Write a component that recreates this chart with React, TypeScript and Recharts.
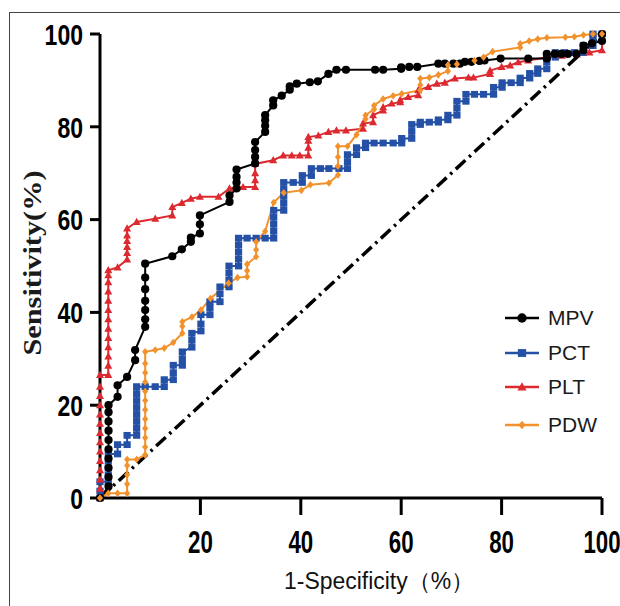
import React from 'react';
import { LineChart, Line, XAxis, YAxis, ReferenceLine, Legend } from 'recharts';

type Pt = [number, number];

// points: [1-specificity, sensitivity]
const mpv: Pt[] = [
  [0, 0], [1.7, 2.5], [1.7, 4.5], [1.7, 6.5], [1.7, 8.5], [1.7, 10.5], [1.7, 12.5], [1.7, 14.5], [1.7, 16.5],
  [1.7, 18.5], [1.7, 20], [3.5, 21.8], [3.5, 24.3], [5.4, 26.1], [7, 29.7], [7, 31.9], [9, 36.9], [9, 38.5],
  [9, 40.5], [9, 42.5], [9, 45], [9, 47.5], [9, 50.5], [14.4, 52.1], [16.3, 53.6], [18.1, 55.2], [18.1, 56.1],
  [19.9, 57], [19.9, 59], [19.9, 60.9], [25.8, 63.8], [25.8, 65.2], [27.2, 66.7], [27.2, 68], [27.2, 69.2],
  [27.2, 70.8], [30.9, 72.1], [30.9, 73.5], [30.9, 75], [30.9, 76.7], [32.9, 78.9], [32.9, 80.2], [32.9, 81.4],
  [32.9, 82.5], [34.5, 84.6], [34.5, 85.7], [36.2, 86.7], [37.8, 88], [37.8, 88.7], [39.2, 89.3], [41.8, 89.6],
  [43.4, 89.8], [45.5, 91.4], [47.1, 92.3], [49, 92.3], [54.8, 92.3], [56.4, 92.3], [60, 92.5], [60, 92.8],
  [61.6, 92.9], [63.2, 92.9], [67.4, 93.6], [68.7, 93.6], [70.4, 93.6], [71.7, 93.6], [72.7, 94], [74, 94],
  [75.6, 94.2], [76.6, 94.3], [79.8, 94.7], [85.3, 94.7], [89, 94.7], [89, 95.7], [90.6, 95.7], [91.9, 95.7],
  [93.2, 95.7], [94.9, 95.7], [96.3, 96.5], [96.3, 97.5], [98, 98], [100, 98.5], [100, 100],
];

const pct: Pt[] = [
  [0, 0], [0, 1.5], [0, 3.5], [1.65, 3.5], [1.65, 5], [1.65, 6.5], [1.65, 8], [1.65, 9.5], [3.5, 9.5],
  [3.5, 11.5], [5.4, 11.5], [5.4, 13.5], [7.3, 13.5], [7.3, 15], [7.3, 16.5], [7.3, 18], [7.3, 19.5], [7.3, 21],
  [7.3, 22.5], [7.3, 24], [9, 24], [11, 24], [12.8, 24], [12.8, 25.5], [14.6, 25.5], [14.6, 27], [14.6, 28.6],
  [16.4, 28.6], [16.4, 30], [16.4, 31.5], [18.3, 32.5], [18.3, 34], [18.3, 35.5], [20.1, 36], [20.1, 37.5],
  [20.1, 39.5], [21.9, 39.5], [21.9, 41], [21.9, 42.3], [23.9, 42.3], [23.9, 44], [23.9, 45.5], [25.7, 45.5],
  [25.7, 47], [25.7, 48.5], [25.7, 50], [27.6, 50], [27.6, 51.5], [27.6, 53], [27.6, 54.5], [27.6, 56],
  [29.3, 56], [31.1, 56], [32.9, 56], [34.6, 56], [34.6, 57.5], [34.6, 59], [34.6, 60.5], [34.6, 62], [36.6, 62],
  [36.6, 63.5], [36.6, 65], [36.6, 66.5], [36.6, 68], [38.5, 68], [40.3, 68], [40.3, 69.5], [42.1, 69.5],
  [42.1, 71], [43.9, 71], [45.6, 71], [47.6, 71], [49.3, 71], [49.3, 72.5], [49.3, 74], [51.1, 74], [51.1, 75.5],
  [52.9, 75.5], [52.9, 76.5], [54.6, 76.5], [56.4, 76.5], [58.4, 76.5], [60.1, 76.5], [60.1, 77.5], [62.1, 77.5],
  [62.1, 79], [62.1, 80.5], [63.8, 80.5], [63.8, 81], [65.6, 81], [67.4, 81], [67.4, 81.5], [69.3, 81.5],
  [69.3, 82.5], [71.1, 82.5], [71.1, 84], [71.1, 85.5], [72.9, 85.5], [72.9, 87], [74.6, 87], [76.4, 87],
  [78.4, 87], [78.4, 88.5], [80.1, 88.5], [80.1, 89.5], [81.9, 89.5], [83.7, 89.5], [83.7, 90.5], [85.6, 90.5],
  [85.6, 91.5], [87.2, 91.5], [87.2, 92.5], [89, 92.5], [89, 94], [89, 95], [90.7, 95], [90.7, 96], [92.5, 96],
  [94.5, 96], [96.3, 96], [96.3, 97.5], [98.2, 97.5], [98.2, 99], [98.2, 100], [100, 100],
];

const plt: Pt[] = [
  [0, 0], [0, 2], [0, 4], [0, 6], [0, 8], [0, 10], [0, 12], [0, 14], [0, 16], [0, 18], [0, 20], [0, 22],
  [0, 24], [0, 26.5], [1.65, 26.5], [1.65, 28.5], [1.65, 30.5], [1.65, 32.5], [1.65, 34.5], [1.65, 36.5],
  [1.65, 38.5], [1.65, 40.5], [1.65, 42.5], [1.65, 44.5], [1.65, 46.5], [1.65, 48], [1.65, 49.1], [3.5, 49.7],
  [5.4, 51.4], [5.4, 52.8], [5.4, 54.1], [5.4, 55.4], [5.4, 56.6], [5.4, 58.1], [7.3, 59.5], [11, 60.2],
  [14.4, 60.9], [14.4, 62.7], [16.3, 63.6], [18.1, 64.5], [19.9, 64.9], [23.6, 64.9], [25.8, 66.7], [27.2, 66.9],
  [28.5, 67], [30.9, 67], [30.9, 68.5], [30.9, 70], [30.9, 72], [34.5, 72.8], [36.5, 73.8], [38.2, 73.8],
  [39.8, 73.8], [41.5, 73.8], [41.5, 75.5], [41.5, 77], [41.5, 77.8], [43.5, 78.1], [45.5, 78.9], [47.1, 79.2],
  [49, 79.2], [52.4, 79.6], [52.4, 80.7], [54.4, 81], [54.4, 82.5], [56.4, 83.5], [56.4, 84.2], [58.1, 85],
  [59.8, 85.3], [59.8, 85.8], [61.4, 86.4], [63.4, 86.8], [63.4, 87.9], [65.4, 88.6], [67.1, 89.3], [68.7, 89.5],
  [70.7, 90.4], [73.4, 90.6], [74.4, 90.6], [77.7, 91.4], [77.7, 92.1], [80, 92.9], [81.7, 93.2], [83.3, 93.9],
  [85.3, 94.3], [89, 95], [92, 95.3], [95, 95.6], [97.5, 96], [100, 96.5], [100, 100],
];

const pdw: Pt[] = [
  [0, 0], [1.65, 1], [3.5, 1], [5.4, 1], [5.4, 3], [5.4, 5], [5.4, 7], [5.4, 8.3], [7.3, 8.3], [9, 9.3],
  [9, 11], [9, 13], [9, 15], [9, 17], [9, 19], [9, 21], [9, 23], [9, 25], [9, 27], [9, 29], [9, 31.5],
  [11, 31.9], [12.8, 32.3], [14.6, 33.5], [16.4, 35.5], [16.4, 37], [16.4, 38], [18.3, 39], [20.1, 40.5],
  [22, 43], [25.6, 46.3], [27.4, 47.5], [29.3, 47.7], [29.3, 49], [29.3, 50.4], [31.1, 52], [31.1, 53.5],
  [31.1, 55.2], [32.9, 57.5], [34.6, 63.7], [36.6, 65.8], [40.1, 66.3], [41.9, 67.5], [45.6, 67.9], [47.4, 69.6],
  [47.4, 71.5], [47.4, 73.5], [47.4, 75.8], [49.3, 75.8], [51.1, 78.3], [52.9, 81.7], [52.9, 82.5], [54.6, 83.8],
  [54.6, 84.6], [56.4, 86], [58.4, 86.7], [60.1, 87.1], [63.8, 87.9], [63.8, 89], [63.8, 90.4], [65.6, 90.6],
  [67.4, 91.2], [69.3, 92], [69.3, 93.3], [71.1, 93.5], [74.6, 94.3], [76.4, 95], [78.2, 96.2], [83.7, 97.1],
  [83.7, 97.9], [85.5, 98.5], [87.2, 98.9], [89, 99.2], [92.7, 99.3], [94.5, 99.4], [96.3, 99.8], [98.2, 100],
  [100, 100],
];

const xTicks = [20, 40, 60, 80, 100];
const yTicks = [0, 20, 40, 60, 80, 100];

const toRows = (pts: Pt[]) => pts.map(([x, y]) => ({ x, y }));

const series = [
  { name: 'MPV', data: mpv, color: '#000000', shape: 'circle' },
  { name: 'PCT', data: pct, color: '#2450a6', shape: 'square' },
  { name: 'PLT', data: plt, color: '#dc2a30', shape: 'triangle' },
  { name: 'PDW', data: pdw, color: '#f2922c', shape: 'diamond' },
];

function marker(shape: string, cx: number, cy: number, color: string, s = 1, key?: any) {
  if (shape === 'circle') return <circle key={key} cx={cx} cy={cy} r={4.1 * s} fill={color} />;
  if (shape === 'square')
    return <rect key={key} x={cx - 3.6 * s} y={cy - 3.4 * s} width={7.2 * s} height={6.8 * s} fill={color} />;
  if (shape === 'triangle')
    return (
      <polygon
        key={key}
        points={`${cx},${cy - 4.2 * s} ${cx + 4 * s},${cy + 3 * s} ${cx - 4 * s},${cy + 3 * s}`}
        fill={color}
      />
    );
  return (
    <polygon
      key={key}
      points={`${cx},${cy - 3.8 * s} ${cx + 3.1 * s},${cy} ${cx},${cy + 3.8 * s} ${cx - 3.1 * s},${cy}`}
      fill={color}
    />
  );
}

// condensed bold tick labels
const NumTick = (props: any) => {
  const { x, y, payload, textAnchor, orientation } = props;
  const label = String(payload.value);
  const bottom = orientation === 'bottom';
  return (
    <text
      x={x}
      y={y}
      dy={bottom ? '0.72em' : '0.36em'}
      textAnchor={textAnchor}
      fontFamily="'Liberation Sans', Arial, sans-serif"
      fontWeight="bold"
      fontSize={bottom ? 32 : 30}
      textLength={(bottom ? 12.4 : 12.8) * label.length}
      lengthAdjust="spacingAndGlyphs"
      fill="#000"
    >
      {label}
    </text>
  );
};

const legendTops = [3, 38, 72, 110];

const renderLegend = () => (
  <div style={{ position: 'relative', width: 120, height: 140 }}>
    {series.map((s, i) => (
      <div
        key={s.name}
        style={{
          position: 'absolute',
          top: legendTops[i],
          left: 0,
          height: 24,
          display: 'flex',
          alignItems: 'center',
        }}
      >
        <svg width={34} height={14} style={{ marginLeft: 5 }}>
          <line x1={0} y1={7} x2={34} y2={7} stroke={s.color} strokeWidth={2.5} />
          {marker(s.shape, 17, 7, s.color, 1.15)}
        </svg>
        <span
          style={{
            marginLeft: 9,
            fontFamily: "'Liberation Sans', Arial, sans-serif",
            fontSize: 21,
            color: '#1a1a1a',
            lineHeight: '24px',
          }}
        >
          {s.name}
        </span>
      </div>
    ))}
  </div>
);

const drawOrder = ['PCT', 'PLT', 'MPV', 'PDW'];

export default function App() {
  return (
    <div style={{ position: 'absolute', left: 0, top: 0, width: 620, height: 606, overflow: 'hidden', background: '#fff' }}>
      <div
        style={{
          position: 'absolute',
          left: 9,
          top: 12,
          width: 700,
          height: 700,
          borderTop: '1px solid #444',
          borderLeft: '1px solid #444',
        }}
      />
      <LineChart width={620} height={606} margin={{ top: 34, right: 18, bottom: 0, left: 0 }}>
        <XAxis
          type="number"
          dataKey="x"
          domain={[0, 100]}
          ticks={xTicks}
          height={108}
          tickSize={17}
          tickMargin={15}
          axisLine={{ stroke: '#000', strokeWidth: 3 }}
          tickLine={{ stroke: '#000', strokeWidth: 3 }}
          tick={<NumTick />}
          label={{
            content: () => (
              <text
                x={379}
                y={589}
                textAnchor="middle"
                fontFamily="'Liberation Sans', Arial, sans-serif"
                fontSize={23}
                textLength={190}
                lengthAdjust="spacingAndGlyphs"
                fill="#111"
              >
                1-Specificity（%）
              </text>
            ),
          }}
        />
        <YAxis
          type="number"
          dataKey="y"
          domain={[0, 100]}
          ticks={yTicks}
          width={100}
          tickSize={10}
          tickMargin={7}
          axisLine={{ stroke: '#000', strokeWidth: 3 }}
          tickLine={{ stroke: '#000', strokeWidth: 3 }}
          tick={<NumTick />}
          label={{
            content: () => (
              <text
                x={41}
                y={263}
                transform="rotate(-90 41 263)"
                textAnchor="middle"
                fontFamily="'Liberation Serif', 'Times New Roman', serif"
                fontWeight="bold"
                fontSize={26}
                textLength={185}
                lengthAdjust="spacingAndGlyphs"
                fill="#1a1a1a"
              >
                Sensitivity(%)
              </text>
            ),
          }}
        />
        <ReferenceLine
          segment={[{ x: 0, y: 0 }, { x: 100, y: 100 }]}
          stroke="#000"
          strokeWidth={3.5}
          strokeDasharray="13 5 2.5 5"
        />
        {drawOrder.map((n) => {
          const s = series.find((d) => d.name === n)!;
          return (
            <Line
              key={s.name}
              name={s.name}
              data={toRows(s.data)}
              dataKey="y"
              type="linear"
              stroke={s.color}
              strokeWidth={2}
              isAnimationActive={false}
              activeDot={false}
              dot={(p: any) => marker(s.shape, p.cx, p.cy, s.color, 1, `${s.name}-${p.index}`)}
            />
          );
        })}
        <Legend
          layout="vertical"
          align="center"
          verticalAlign="middle"
          wrapperStyle={{ left: 500, top: 303, width: 120 }}
          content={renderLegend}
        />
      </LineChart>
    </div>
  );
}
